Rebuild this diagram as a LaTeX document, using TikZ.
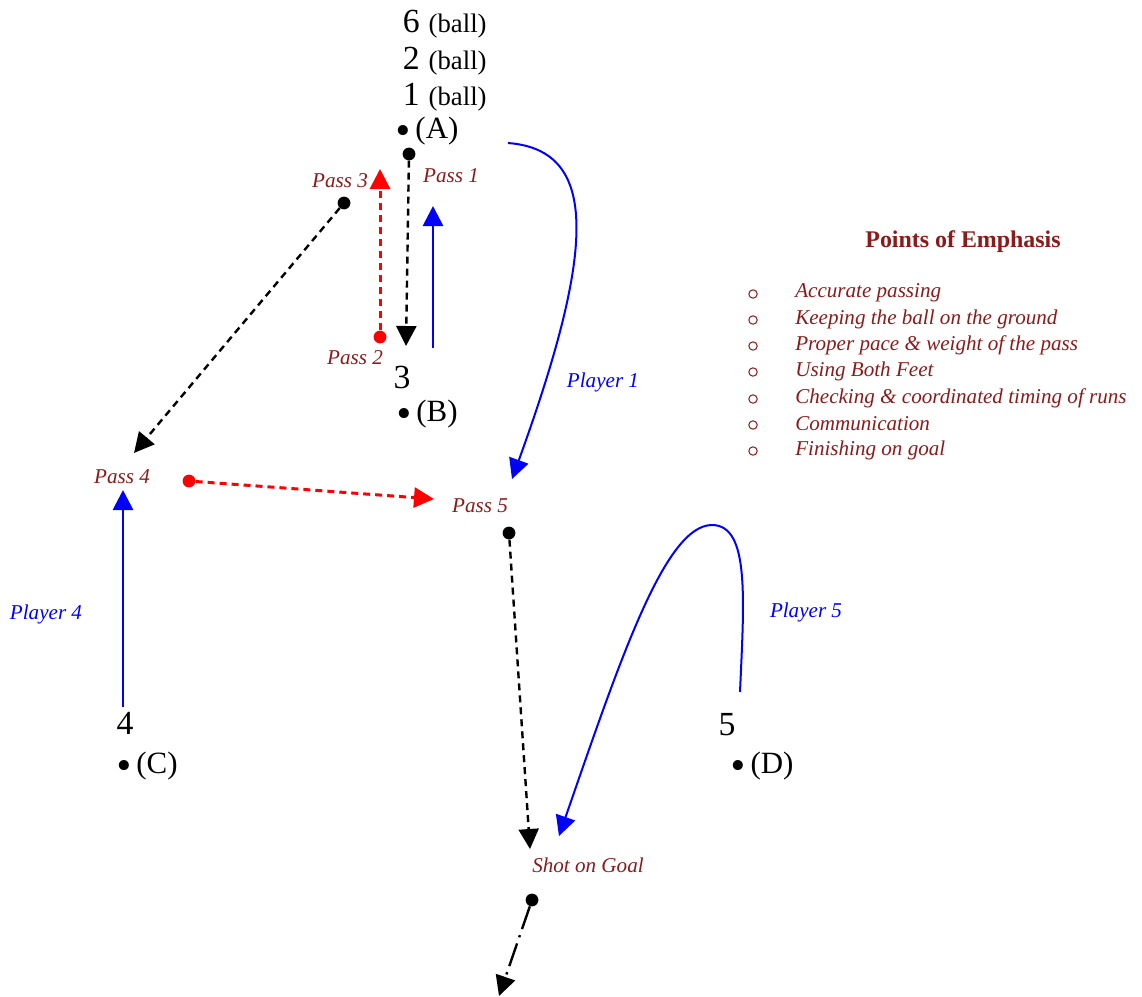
\documentclass[tikz,border=0pt]{standalone}
\usepackage{fontspec}
\setmainfont{Liberation Serif}
\usepackage{xcolor}
\definecolor{maroon}{HTML}{8B1A1A}
\usetikzlibrary{arrows.meta,positioning,shapes,calc}

\newcommand{\spotdot}{\raisebox{-4.5pt}[0pt][0pt]{\fontsize{30}{30}\selectfont\textit{•}}}

\begin{document}
\begin{tikzpicture}[x=0.25mm,y=-0.25mm,
  lbl/.style={text=maroon,font=\fontsize{15}{15}\selectfont\itshape},
  plbl/.style={text=blue,font=\fontsize{15}{15}\selectfont\itshape},
  num/.style={font=\fontsize{24}{24}\selectfont},
  spot/.style={font=\fontsize{22}{22}\selectfont},
  ballword/.style={font=\fontsize{19}{19}\selectfont},
  ball/.style={circle,fill,inner sep=0pt,minimum size=3.2mm},
  pass/.style={line width=0.6mm,dash pattern=on 1.75mm off 1.25mm,-{Triangle[length=5mm,width=5mm]}},
  redpass/.style={pass,red,line width=0.75mm},
  run/.style={blue,line width=0.7mm,-{Triangle[length=5mm,width=5mm]}},
  curve/.style={blue,line width=0.5mm,-{Triangle[length=5mm,width=5mm]}}]
  \useasboundingbox (0,0) rectangle (1142,996);

  % Players at (A)
  \foreach \n/\y in {6/33, 2/70, 1/106} {
    \node[anchor=base east,num,inner sep=0pt] (p\n) at (420,\y) {\n};
    \node[anchor=base west,ballword,inner sep=0pt] (b\n) at ([xshift=6]p\n.base east) {(ball)};
  }
  \node[spot] (A) at (427,131) {\spotdot\,(A)};

  % Spots
  \node[num] (p3) at (402,377) {3};
  \node[spot] (B) at (427,414) {\spotdot\,(B)};
  \node[num] (p4) at (125,723) {4};
  \node[spot] (C) at (147,766) {\spotdot\,(C)};
  \node[num] (p5) at (727,725) {5};
  \node[spot] (D) at (762,766) {\spotdot\,(D)};

  % Passes
  \node[ball] (d1) at (409,154) {};
  \coordinate (t1) at (406,346);
  \draw[pass] (d1) -- (t1);
  \node[lbl] (pass1) at (451,176) {Pass 1};

  \node[ball,red] (d2) at (380,337) {};
  \coordinate (t2) at (380,169);
  \draw[redpass] (d2) -- (t2);
  \node[lbl] (pass2) at (355,358) {Pass 2};
  \node[lbl] (pass3) at (340,181) {Pass 3};

  \node[ball] (d3) at (344,203) {};
  \coordinate (t3) at (134,453);
  \draw[pass] (d3) -- (t3);

  \node[lbl] (pass4) at (122,477) {Pass 4};
  \node[ball,red] (d4) at (189,481) {};
  \coordinate (t4) at (434,499);
  \draw[redpass] (d4) -- (t4);

  \node[lbl] (pass5) at (480,506) {Pass 5};
  \node[ball] (d5) at (509,533) {};
  \coordinate (t5) at (530,849);
  \draw[pass] (d5) -- (t5);

  \node[lbl] (shot) at (588,865) {Shot on Goal};
  \node[ball] (d6) at (532,900) {};
  \coordinate (t6) at (499,996);
  \draw[line width=0.6mm,dash pattern=on 6mm off 1.6mm on 0.6mm off 1.6mm,-{Triangle[length=5mm,width=5mm]}] (d6) -- (t6);

  % Runs
  \coordinate (r1a) at (433,348);
  \coordinate (r1b) at (433,206);
  \draw[run] (r1a) -- (r1b);

  \coordinate (r4a) at (123,707);
  \coordinate (r4b) at (123,490);
  \draw[run] (r4a) -- (r4b);
  \node[plbl] (pl4) at (46,614) {Player 4};

  \coordinate (r2a) at (508,143);
  \coordinate (r2b) at (512,479);
  \draw[curve] (r2a) .. controls (600,150) and (595,250) .. (r2b);
  \node[plbl] (pl1) at (603,382) {Player 1};

  \coordinate (r5a) at (740,692);
  \coordinate (r5t) at (712,525);
  \coordinate (r5b) at (559,836);
  \draw[curve] (r5a) .. controls (744,600) and (750,525) .. (r5t)
    .. controls (665,525) and (620,660) .. (r5b);
  \node[plbl] (pl5) at (806,612) {Player 5};

  % Points of Emphasis
  \node[text=maroon,font=\fontsize{17}{17}\selectfont\bfseries] (poe) at (963,242) {Points of Emphasis};
  \foreach \y/\txt in {293/Accurate passing, 319/Keeping the ball on the ground,
      345/Proper pace \& weight of the pass, 371/Using Both Feet,
      398/Checking \& coordinated timing of runs, 424/Communication,
      450/Finishing on goal} {
    \draw[maroon,line width=0.25mm] (753,\y+1) circle (4.2);
    \node[lbl,anchor=west,inner sep=0pt] at (795,\y) {\txt};
  }
\end{tikzpicture}
\end{document}
